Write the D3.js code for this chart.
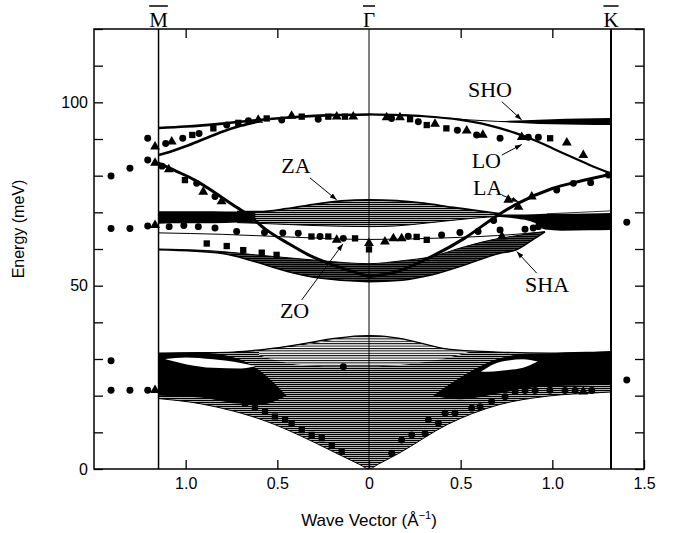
<!DOCTYPE html>
<html>
<head>
<meta charset="utf-8">
<script src="https://cdn.jsdelivr.net/npm/d3@7"></script>
<style>
  body { margin: 0; background: #fff; }
  .axis text { font-family: "Liberation Sans", Arial, sans-serif; font-size: 16px; fill: #000; }
  .axis line { stroke: #000; stroke-width: 1.3; }
</style>
</head>
<body>
<svg id="chart" width="681" height="533"></svg>
<script>
// wave vector in 1/A; negative values run from Gamma towards M, positive towards K
const X_DOMAIN = [-1.5, 1.5];
const Y_DOMAIN = [0, 120];
const X_TICKS = [-1, -0.5, 0, 0.5, 1, 1.5];
const TOP_TICKS = [-1, -0.5, 0.5, 1];
const Y_TICKS = [0, 10, 20, 30, 40, 50, 60, 70, 80, 90, 100, 110, 120];
const Y_LABELS = [0, 50, 100];
const SYM_POINTS = [
  { name: "M", q: -1.148, w: 1.5 },
  { name: "Γ", q: 0, w: 1 },
  { name: "K", q: 1.32, w: 2 }
];

// projected bulk bands (envelopes)
const acousticBand = {
  q:  [-1.148, -0.92, -0.74, -0.56, -0.38, -0.19, -0.05, 0, 0.05, 0.16, 0.43, 0.70, 0.98, 1.25, 1.32],
  lo: [19.2, 17.8, 15.8, 13.0, 9.2, 4.6, 1.2, 0, 1.3, 4.2, 12.2, 17.4, 19.9, 20.8, 21.0],
  hi: [31.6, 31.7, 31.9, 32.7, 34.0, 35.6, 36.3, 36.4, 36.3, 35.7, 32.7, 31.9, 31.6, 31.9, 32.0]
};
const acousticUpper = {
  q:  [-0.6, -0.4, -0.2, 0, 0.2, 0.4, 0.55],
  lo: [31.0, 28.5, 28.0, 28.0, 28.5, 30.0, 32.0],
  hi: [32.2, 33.5, 35.2, 36.4, 35.2, 33.0, 32.2]
};
const acousticDarkLeft = {
  q:  [-1.148, -0.92, -0.74, -0.6, -0.45],
  lo: [20.0, 19.5, 18.0, 17.5, 20.0],
  hi: [31.6, 31.7, 30.5, 27.0, 20.0]
};
const acousticDarkRight = {
  q:  [0.35, 0.5, 0.7, 0.85, 1.0, 1.15, 1.32],
  lo: [20.0, 19.0, 20.5, 22.0, 22.6, 22.8, 23.0],
  hi: [20.0, 25.0, 30.0, 31.4, 31.6, 31.8, 32.0]
};
const lensLeft = {
  q:  [-1.11, -1.0, -0.85, -0.7, -0.62],
  lo: [29.9, 28.6, 27.6, 27.4, 28.0],
  hi: [30.0, 30.4, 29.9, 28.9, 28.0]
};
const lensRight = {
  q:  [0.61, 0.68, 0.76, 0.84, 0.92],
  lo: [26.5, 26.6, 27.0, 27.6, 29.3],
  hi: [26.5, 28.6, 29.6, 29.9, 29.3]
};
const zoBand = {
  q:  [-1.148, -0.80, -0.62, -0.44, -0.26, 0, 0.18, 0.34, 0.52, 0.71, 0.80, 0.89, 0.96],
  lo: [59.8, 58.8, 56.5, 53.8, 52.0, 51.1, 51.5, 52.9, 55.6, 58.8, 59.7, 62.4, 64.7],
  hi: [60.0, 59.3, 58.4, 57.6, 56.8, 56.0, 56.8, 57.9, 60.6, 62.9, 63.6, 64.3, 64.7]
};
const zaBand = {
  q:  [-0.72, -0.6, -0.45, -0.3, -0.15, 0, 0.15, 0.3, 0.45, 0.57, 0.72],
  lo: [67.2, 67.0, 66.7, 66.4, 66.2, 66.1, 66.3, 67.0, 67.8, 68.4, 68.9],
  hi: [70.2, 70.2, 71.0, 72.2, 73.1, 73.4, 73.2, 72.5, 71.4, 70.6, 69.6]
};
const darkBandLeft = {
  q:  [-1.148, -1.0, -0.85, -0.72, -0.62],
  lo: [66.9, 67.0, 67.0, 67.2, 67.4],
  hi: [70.3, 70.3, 70.3, 70.2, 70.1]
};
const darkBandRight = {
  q:  [0.70, 0.8, 0.9, 0.96, 1.05, 1.2, 1.32],
  lo: [68.8, 68.3, 67.2, 65.3, 65.0, 65.1, 65.2],
  hi: [69.4, 69.4, 69.5, 69.6, 69.6, 69.7, 69.8]
};
const shoBand = {
  q:  [0.72, 0.85, 1.0, 1.15, 1.32],
  lo: [94.7, 94.3, 94.0, 93.9, 93.8],
  hi: [94.9, 95.1, 95.4, 95.6, 95.7]
};

// single calculated branches [q, E]
const opticUpper = [[-1.148, 93.0], [-1.0, 93.4], [-0.8, 94.2], [-0.6, 95.2], [-0.4, 96.0], [-0.2, 96.5], [0, 96.7]];
const opticLower = [[-1.148, 85.6], [-1.08, 86.6], [-1.0, 88.0], [-0.9, 90.0], [-0.8, 92.0], [-0.7, 93.6], [-0.6, 94.8]];
const shoLine = [[0, 96.7], [0.2, 96.5], [0.4, 95.8], [0.55, 95.2], [0.7, 94.8], [0.85, 94.6], [1.0, 94.7], [1.32, 94.7]];
const loLine = [[0, 96.7], [0.3, 96.2], [0.5, 95.2], [0.65, 93.8], [0.8, 91.6], [0.9, 89.7], [1.0, 87.5], [1.1, 85.2], [1.2, 83.0], [1.32, 80.6]];
const laLeft = [[-1.148, 83.4], [-1.05, 81.2], [-0.95, 78.8], [-0.85, 75.7], [-0.78, 73.3], [-0.72, 71.3], [-0.66, 69.4],
  [-0.567, 65.5], [-0.44, 61.5], [-0.33, 58.4], [-0.16, 55.0], [0, 52.5]];
const laRight = [[0, 52.5], [0.15, 53.8], [0.34, 57.9], [0.52, 62.9], [0.705, 69.3], [0.815, 72.5], [1.0, 76.5], [1.16, 78.6], [1.32, 80.4]];
const line64 = [[-1.148, 64.4], [-0.8, 64.0], [-0.4, 63.2], [0, 62.6], [0.4, 63.0], [0.8, 64.0], [0.96, 64.7]];
const thinK = [[0.97, 69.6], [1.15, 70.0], [1.32, 70.4]];

// measured points [q, E]
const circles = [
  [-1.407, 79.9], [-1.304, 82.0], [-1.207, 90.2], [-1.207, 84.3], [-1.407, 65.6], [-1.304, 65.6], [-1.207, 66.3],
  [-1.407, 29.5], [-1.407, 21.5], [-1.304, 21.5], [-1.207, 21.5], [1.406, 67.3], [1.406, 24.3],
  [-1.109, 88.8], [-1.016, 90.2], [-0.927, 91.5], [-0.776, 93.8], [-0.658, 95.0], [-0.476, 95.2], [-0.277, 95.4],
  [0.123, 95.6], [0.269, 94.7], [0.482, 92.4], [0.587, 91.1], [0.715, 90.2], [0.869, 90.5], [0.924, 90.5], [1.306, 80.2],
  [1.024, 76.1], [1.115, 77.9], [1.209, 78.1],
  [-1.129, 82.6], [-0.940, 77.9], [-0.840, 74.3],
  [-1.09, 66.1], [-1.01, 66.4], [-0.931, 66.1], [-0.840, 65.7], [-0.722, 64.8], [-0.57, 64.5], [-0.47, 64.4], [-0.386, 64.3],
  [-0.267, 63.4], [-0.140, 62.9],
  [0.214, 63.5], [0.396, 63.8], [0.496, 64.5], [0.595, 64.8], [0.68, 67.8], [0.715, 65.2], [0.851, 65.4], [0.896, 65.7], [0.924, 66.1],
  [-0.14, 27.9],
  [0.124, 4.3], [0.178, 7.9], [0.233, 9.3], [0.306, 9.7], [0.324, 13.4], [0.378, 12.5], [0.415, 15.2], [0.469, 15.2],
  [0.560, 16.6], [0.606, 17.0], [0.669, 18.4], [0.742, 19.7], [0.797, 21.1], [0.851, 21.4], [0.906, 21.4], [0.987, 21.5],
  [1.069, 21.4], [1.124, 21.4], [1.215, 21.4]
];
const squares = [
  [-0.964, 91.1], [-0.849, 92.9], [-0.713, 94.4], [-0.558, 95.6], [-0.367, 96.1], [-0.222, 96.1], [-0.131, 96.1],
  [0.224, 95.4], [0.315, 93.8], [0.422, 92.9], [0.988, 90.2],
  [-1.004, 78.8],
  [-0.314, 63.4], [-0.222, 63.4], [-0.076, 62.9], [0.260, 63.3], [0.315, 62.5], [0, 59.9],
  [-0.885, 61.5], [-0.776, 60.8], [-0.686, 59.7], [-0.585, 59.0], [-0.504, 58.4],
  [-1.095, 21.1], [-1.040, 21.1], [-0.949, 21.1], [-0.895, 21.1], [-0.840, 20.6], [-0.785, 19.9], [-0.731, 18.8],
  [-0.676, 17.9], [-0.622, 16.8], [-0.567, 15.6], [-0.513, 14.3], [-0.458, 13.4], [-0.422, 12.5], [-0.367, 10.6],
  [-0.313, 9.3], [-0.258, 8.4], [-0.203, 6.5], [-0.149, 4.7]
];
const triangles = [
  [-1.167, 87.9], [-1.167, 83.5], [-1.167, 66.5], [-1.167, 21.5],
  [-1.076, 89.3], [-0.604, 95.2], [-0.422, 96.3], [-0.176, 96.1], [-0.086, 96.1],
  [0.096, 95.9], [0.169, 95.9], [0.360, 94.1], [0.533, 92.3], [0.621, 91.1], [0.833, 90.5], [1.079, 89.0], [1.169, 85.6],
  [0.760, 73.4], [0.815, 71.5], [0.888, 74.3],
  [-1.092, 81.7], [-0.904, 75.6], [-0.804, 73.0],
  [-0.176, 62.5], [0, 61.6], [0.087, 62.0], [0.133, 62.9], [0.178, 62.9], [0.725, 63.4],
  [1.169, 21.1]
];

// mode labels: text anchor point and arrow [from, to] in data units
const labels = [
  { text: "ZA", q: -0.478, E: 80.7 },
  { text: "SHO", q: 0.540, E: 101.5 },
  { text: "LO", q: 0.560, E: 82.1 },
  { text: "LA", q: 0.567, E: 74.7 },
  { text: "ZO", q: -0.486, E: 41.2 },
  { text: "SHA", q: 0.851, E: 48.4 }
];
const arrows = [
  { from: [-0.322, 79.4], to: [-0.176, 73.4] },
  { from: [0.724, 100.2], to: [0.833, 95.2] },
  { from: [0.724, 85.6], to: [0.833, 88.5] },
  { from: [0.724, 74.7], to: [0.815, 72.9] },
  { from: [-0.367, 46.1], to: [-0.142, 61.4] },
  { from: [0.915, 53.4], to: [0.806, 59.3] }
];

const svg = d3.select("#chart");
const margin = { left: 94, right: 37, top: 29, bottom: 64 };
const W = 681, H = 533;

const x = d3.scaleLinear().domain(X_DOMAIN).range([margin.left, W - margin.right]);
const y = d3.scaleLinear().domain(Y_DOMAIN).range([H - margin.bottom, margin.top]);

const defs = svg.append("defs");
function hatch(id, step, thick) {
  const p = defs.append("pattern")
    .attr("id", id)
    .attr("patternUnits", "userSpaceOnUse")
    .attr("width", 8)
    .attr("height", step);
  p.append("rect").attr("width", 8).attr("height", step).attr("fill", "#fff");
  p.append("rect").attr("width", 8).attr("height", thick).attr("fill", "#000");
}
hatch("hatchLight", 2.4, 1);
hatch("hatchMid", 2, 1.3);
hatch("hatchDark", 2, 1.7);

const qMin = SYM_POINTS[0].q, qMax = SYM_POINTS[2].q;
defs.append("clipPath").attr("id", "clip")
  .append("rect")
  .attr("x", x(qMin)).attr("y", y(Y_DOMAIN[1]))
  .attr("width", x(qMax) - x(qMin)).attr("height", y(0) - y(Y_DOMAIN[1]));

const plot = svg.append("g").attr("clip-path", "url(#clip)");

const toRows = b => b.q.map((q, i) => ({ q: q, lo: b.lo[i], hi: b.hi[i] }));
const area = d3.area()
  .x(d => x(d.q))
  .y0(d => y(d.lo))
  .y1(d => y(d.hi))
  .curve(d3.curveMonotoneX);
const line = d3.line()
  .x(d => x(d[0]))
  .y(d => y(d[1]))
  .curve(d3.curveMonotoneX);

function drawBand(b, fill) {
  plot.append("path").datum(toRows(b)).attr("d", area).attr("fill", fill);
}
function drawLine(pts, w) {
  plot.append("path").datum(pts).attr("d", line)
    .attr("fill", "none").attr("stroke", "#000").attr("stroke-width", w);
}

// bands
drawBand(acousticBand, "url(#hatchMid)");
drawBand(acousticUpper, "url(#hatchLight)");
drawBand(acousticDarkLeft, "#000");
drawBand(acousticDarkRight, "#000");
drawBand(lensLeft, "#fff");
drawBand(lensRight, "#fff");
drawBand(zoBand, "url(#hatchDark)");
drawBand(zaBand, "url(#hatchMid)");
drawBand(darkBandLeft, "#000");
drawBand(darkBandRight, "#000");
drawBand(shoBand, "#000");

// band outlines
const edge = (b, key) => b.q.map((q, i) => [q, b[key][i]]);
drawLine(edge(acousticBand, "hi"), 1.3);
drawLine(edge(acousticBand, "lo"), 1);
drawLine(edge(zoBand, "hi"), 1);
drawLine(edge(zoBand, "lo"), 1.5);
drawLine(edge(zaBand, "hi"), 1.8);
drawLine(edge(zaBand, "lo"), 1);

// branches
drawLine(opticUpper, 2.6);
drawLine(opticLower, 2.6);
drawLine(shoLine, 1);
drawLine(loLine, 2.2);
drawLine(laLeft, 3);
drawLine(laRight, 3);
drawLine(line64, 1);
drawLine(thinK, 0.8);

// measured points
const pts = svg.append("g");
function drawSymbols(data, type, size) {
  pts.selectAll(null).data(data).enter().append("path")
    .attr("d", d3.symbol().type(type).size(size))
    .attr("transform", d => "translate(" + x(d[0]) + "," + y(d[1]) + ")")
    .attr("fill", "#000");
}
drawSymbols(circles, d3.symbolCircle, 38);
drawSymbols(squares, d3.symbolSquare, 40);
drawSymbols(triangles, d3.symbolTriangle, 42);

// symmetry lines and labels
SYM_POINTS.forEach(p => {
  svg.append("line")
    .attr("x1", x(p.q)).attr("x2", x(p.q))
    .attr("y1", y(Y_DOMAIN[1])).attr("y2", y(0))
    .attr("stroke", "#000").attr("stroke-width", p.w);
  const t = svg.append("text")
    .attr("x", x(p.q)).attr("y", 27)
    .attr("text-anchor", "middle")
    .style("font-family", "'Liberation Serif', 'Times New Roman', serif")
    .style("font-size", "21px")
    .text(p.name);
  const len = t.node().getComputedTextLength();
  svg.append("line")
    .attr("x1", x(p.q) - len / 2).attr("x2", x(p.q) + len / 2)
    .attr("y1", 6).attr("y2", 6)
    .attr("stroke", "#000").attr("stroke-width", 1.5);
});

// axes
svg.append("g").attr("class", "axis")
  .attr("transform", "translate(0," + y(0) + ")")
  .call(d3.axisBottom(x).tickValues(X_TICKS).tickSizeInner(-9).tickSizeOuter(0).tickPadding(9)
    .tickFormat(d => d === 0 ? "0" : Math.abs(d).toFixed(1)))
  .call(g => g.select(".domain").remove());
svg.append("g").attr("class", "axis")
  .attr("transform", "translate(0," + y(Y_DOMAIN[1]) + ")")
  .call(d3.axisTop(x).tickValues(TOP_TICKS).tickSizeInner(-9).tickSizeOuter(0).tickFormat(""))
  .call(g => g.select(".domain").remove());
svg.append("g").attr("class", "axis")
  .attr("transform", "translate(" + x(X_DOMAIN[0]) + ",0)")
  .call(d3.axisLeft(y).tickValues(Y_TICKS).tickSizeInner(-9).tickSizeOuter(0).tickPadding(6)
    .tickFormat(d => Y_LABELS.includes(d) ? d : ""))
  .call(g => g.select(".domain").remove());
svg.append("g").attr("class", "axis")
  .attr("transform", "translate(" + x(X_DOMAIN[1]) + ",0)")
  .call(d3.axisRight(y).tickValues(Y_TICKS).tickSizeInner(-9).tickSizeOuter(0).tickFormat(""))
  .call(g => g.select(".domain").remove());

// frame
svg.append("rect")
  .attr("x", x(X_DOMAIN[0])).attr("y", y(Y_DOMAIN[1]))
  .attr("width", x(X_DOMAIN[1]) - x(X_DOMAIN[0]))
  .attr("height", y(0) - y(Y_DOMAIN[1]))
  .attr("fill", "none").attr("stroke", "#000").attr("stroke-width", 1.5);

// axis titles
svg.append("text")
  .attr("transform", "translate(24," + ((y(0) + y(Y_DOMAIN[1])) / 2 - 20) + ") rotate(-90)")
  .attr("text-anchor", "middle")
  .style("font-family", "'Liberation Sans', Arial, sans-serif")
  .style("font-size", "16px")
  .text("Energy (meV)");
const xt = svg.append("text")
  .attr("x", x(0)).attr("y", 526)
  .attr("text-anchor", "middle")
  .style("font-family", "'Liberation Sans', Arial, sans-serif")
  .style("font-size", "17px");
xt.append("tspan").text("Wave Vector (Å");
xt.append("tspan").attr("dy", -7).style("font-size", "11px").text("−1");
xt.append("tspan").attr("dy", 7).text(")");

// mode labels and arrows
defs.append("marker")
  .attr("id", "head")
  .attr("viewBox", "0 0 10 10")
  .attr("refX", 10).attr("refY", 5)
  .attr("markerWidth", 7).attr("markerHeight", 7)
  .attr("orient", "auto")
  .append("path").attr("d", "M0,1.5 L10,5 L0,8.5 Z").attr("fill", "#000");

svg.selectAll(null).data(labels).enter().append("text")
  .attr("x", d => x(d.q)).attr("y", d => y(d.E))
  .style("font-family", "'Liberation Serif', 'Times New Roman', serif")
  .style("font-size", "22px")
  .text(d => d.text);
svg.selectAll(null).data(arrows).enter().append("line")
  .attr("x1", d => x(d.from[0])).attr("y1", d => y(d.from[1]))
  .attr("x2", d => x(d.to[0])).attr("y2", d => y(d.to[1]))
  .attr("stroke", "#000").attr("stroke-width", 1)
  .attr("marker-end", "url(#head)");
</script>
</body>
</html>
